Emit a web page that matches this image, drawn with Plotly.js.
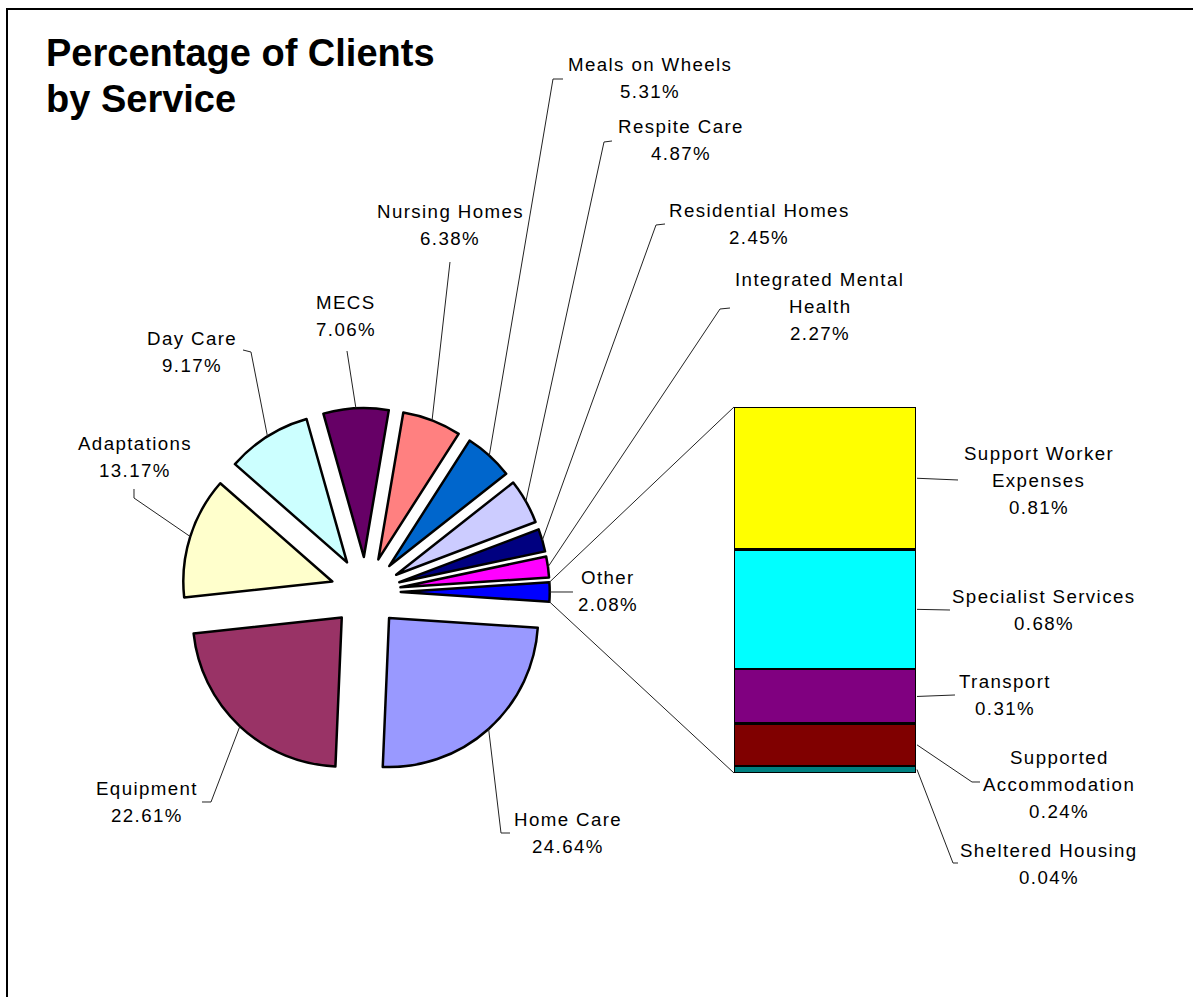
<!DOCTYPE html>
<html><head><meta charset="utf-8">
<script src="https://cdn.plot.ly/plotly-3.0.1.min.js"></script>
<style>html,body{margin:0;padding:0;background:#fff;} #chart{width:1193px;height:997px;}</style>
</head><body><div id="chart"></div>
<script>
// ---------------- data ----------------
const services = ['Home Care','Equipment','Adaptations','Day Care','MECS','Nursing Homes','Meals on Wheels','Respite Care','Residential Homes','Integrated Mental Health','Other'];
const servicePct = [24.64,22.61,13.17,9.17,7.06,6.38,5.31,4.87,2.45,2.27,2.08];
const otherParts = ['Sheltered Housing','Supported Accommodation','Transport','Specialist Services','Support Worker Expenses'];
const otherPct = [0.04,0.24,0.31,0.68,0.81];
const chartTitle = ['Percentage of Clients','by Service'];

// ---------------- styles / layout ----------------
const serviceColors = ['#9999FF','#993366','#FFFFCC','#CCFFFF','#660066','#FF8080','#0066CC','#CCCCFF','#000080','#FF00FF','#0000FF'];
const otherColors = ['#008080','#800000','#800080','#00FFFF','#FFFF00'];
const W = 1193, H = 997;
const PIE = {cx: 365.7, cy: 592, r: 149, pull: 0.235};
const BAR = {x0: 734, x1: 916, yTop: 407, yBot: 773};
const FONT = 'Liberation Sans, Arial, sans-serif';
const LINE_STEP = 27;

const pieLabelPos = {
  'Home Care': {x: 568, y: 819, pts: [[510,833],[501,833]]},
  'Equipment': {x: 147, y: 788, pts: [[202,802],[211,802]]},
  'Adaptations': {x: 134.5, y: 443, pts: [[134,489],[134,498]]},
  'Day Care': {x: 192, y: 338, pts: [[243,350],[251,352]]},
  'MECS': {x: 346, y: 302, pts: [[347,351]]},
  'Nursing Homes': {x: 450, y: 212, pts: [[450,262]]},
  'Meals on Wheels': {x: 649.5, y: 64, pts: [[563,79],[553,79]]},
  'Respite Care': {x: 681, y: 127, pts: [[612,141],[604,142]]},
  'Residential Homes': {x: 759, y: 211, pts: [[665,224],[656,225]]},
  'Integrated Mental Health': {x: 819.5, y: 280, pts: [[730,308],[720,309]], wrap: ['Integrated Mental','Health']},
  'Other': {x: 607.5, y: 577, pts: [[573,592]]}
};
const barLabelPos = {
  'Support Worker Expenses': {x: 1038.5, y: 453, pts: [[958,480]], wrap: ['Support Worker','Expenses']},
  'Specialist Services': {x: 1043.5, y: 596, pts: [[950,610]]},
  'Transport': {x: 1005, y: 681, pts: [[955,695]]},
  'Supported Accommodation': {x: 1059, y: 757, pts: [[980,782],[972,782]], wrap: ['Supported','Accommodation']},
  'Sheltered Housing': {x: 1049, y: 850, pts: [[958,863],[953,863]]}
};

// ---------------- helpers ----------------
const px = x => x / W;
const py = y => 1 - y / H;
const sum = a => a.reduce((s, v) => s + v, 0);
const pct = v => v.toFixed(2) + '%';
const annotations = [];
const shapes = [];

function addLabel(name, value, pos) {
  const lines = (pos.wrap || [name]).concat([pct(value)]);
  lines.forEach((ln, i) => {
    annotations.push({
      xref: 'paper', yref: 'paper', x: px(pos.x), y: py(pos.y + i * LINE_STEP),
      xanchor: 'center', yanchor: 'middle', showarrow: false,
      text: '<span style="letter-spacing:1.4px">' + ln + '</span>',
      font: {family: FONT, size: 18.7, color: '#000'}
    });
  });
}
function addPath(points, color, width) {
  const d = points.map((p, i) => (i ? 'L' : 'M') + px(p[0]).toFixed(5) + ',' + py(p[1]).toFixed(5)).join(' ');
  shapes.push({type: 'path', xref: 'paper', yref: 'paper', path: d, line: {color: color || '#222', width: width || 1}});
}

// ---------------- pie geometry (same as plotly's) ----------------
const total = sum(servicePct);
const rotation = 90 + servicePct[servicePct.length - 1] / total * 180; // "Other" centred on 3 o'clock
const half = PIE.r * (1 + PIE.pull);
const pieDomain = {
  x: [px(PIE.cx - half), px(PIE.cx + half)],
  y: [py(PIE.cy + half), py(PIE.cy - half)]
};
let cum = 0;
let otherTop = null, otherBot = null;
services.forEach((s, i) => {
  const v = servicePct[i];
  const a0 = (rotation + cum / total * 360) * Math.PI / 180;
  const a1 = (rotation + (cum + v) / total * 360) * Math.PI / 180;
  const am = (a0 + a1) / 2;
  const ax = PIE.cx + PIE.pull * PIE.r * Math.sin(am);
  const ay = PIE.cy - PIE.pull * PIE.r * Math.cos(am);
  const outer = [ax + PIE.r * Math.sin(am), ay - PIE.r * Math.cos(am)];
  const pos = pieLabelPos[s];
  addLabel(s, v, pos);
  addPath(pos.pts.concat([outer]));
  if (s === 'Other') {
    otherTop = [ax + PIE.r * Math.sin(a0), ay - PIE.r * Math.cos(a0)];
    otherBot = [ax + PIE.r * Math.sin(a1), ay - PIE.r * Math.cos(a1)];
  }
  cum += v;
});

// ---------------- bar ----------------
const otherTotal = sum(otherPct);
const barY = v => BAR.yBot - (v / otherTotal) * (BAR.yBot - BAR.yTop);
let bcum = 0;
otherParts.forEach((s, i) => {
  const mid = bcum + otherPct[i] / 2;
  const pos = barLabelPos[s];
  addLabel(s, otherPct[i], pos);
  addPath(pos.pts.concat([[BAR.x1 + 1, barY(mid)]]));
  bcum += otherPct[i];
});
// connectors between "Other" slice and the bar
addPath([otherTop, [BAR.x0, BAR.yTop]]);
addPath([otherBot, [BAR.x0, BAR.yBot]]);

// frame
shapes.push({type: 'rect', xref: 'paper', yref: 'paper', x0: px(7), x1: 1.1, y0: -0.1, y1: py(9), line: {color: '#000', width: 2}, layer: 'below'});

// title
annotations.push({xref: 'paper', yref: 'paper', x: px(44), y: py(53), xanchor: 'left', yanchor: 'middle', showarrow: false,
  text: '<b>' + chartTitle[0] + '</b>', font: {family: FONT, size: 38, color: '#000'}});
annotations.push({xref: 'paper', yref: 'paper', x: px(44), y: py(99), xanchor: 'left', yanchor: 'middle', showarrow: false,
  text: '<b>' + chartTitle[1] + '</b>', font: {family: FONT, size: 38, color: '#000'}});

// ---------------- traces ----------------
const traces = [{
  type: 'pie', values: servicePct, labels: services, sort: false, direction: 'clockwise',
  rotation: rotation, pull: services.map(() => PIE.pull),
  marker: {colors: serviceColors, line: {color: '#000', width: 2.5}},
  textinfo: 'none', hoverinfo: 'skip', showlegend: false, domain: pieDomain
}];
otherParts.forEach((s, i) => {
  traces.push({type: 'bar', name: s, x: [0], y: [otherPct[i]], width: [1],
    marker: {color: otherColors[i], line: {color: '#000', width: 2.5}},
    hoverinfo: 'skip', showlegend: false});
});

const layout = {
  width: W, height: H, autosize: false,
  margin: {l: 0, r: 0, t: 0, b: 0, pad: 0},
  paper_bgcolor: '#fff', plot_bgcolor: 'rgba(0,0,0,0)',
  showlegend: false, barmode: 'stack', bargap: 0,
  xaxis: {domain: [px(BAR.x0), px(BAR.x1)], range: [-0.5, 0.5], visible: false, fixedrange: true},
  yaxis: {domain: [py(BAR.yBot), py(BAR.yTop)], range: [0, otherTotal], visible: false, fixedrange: true},
  annotations: annotations, shapes: shapes
};
Plotly.newPlot('chart', traces, layout, {staticPlot: true, displayModeBar: false});
</script>
</body></html>
